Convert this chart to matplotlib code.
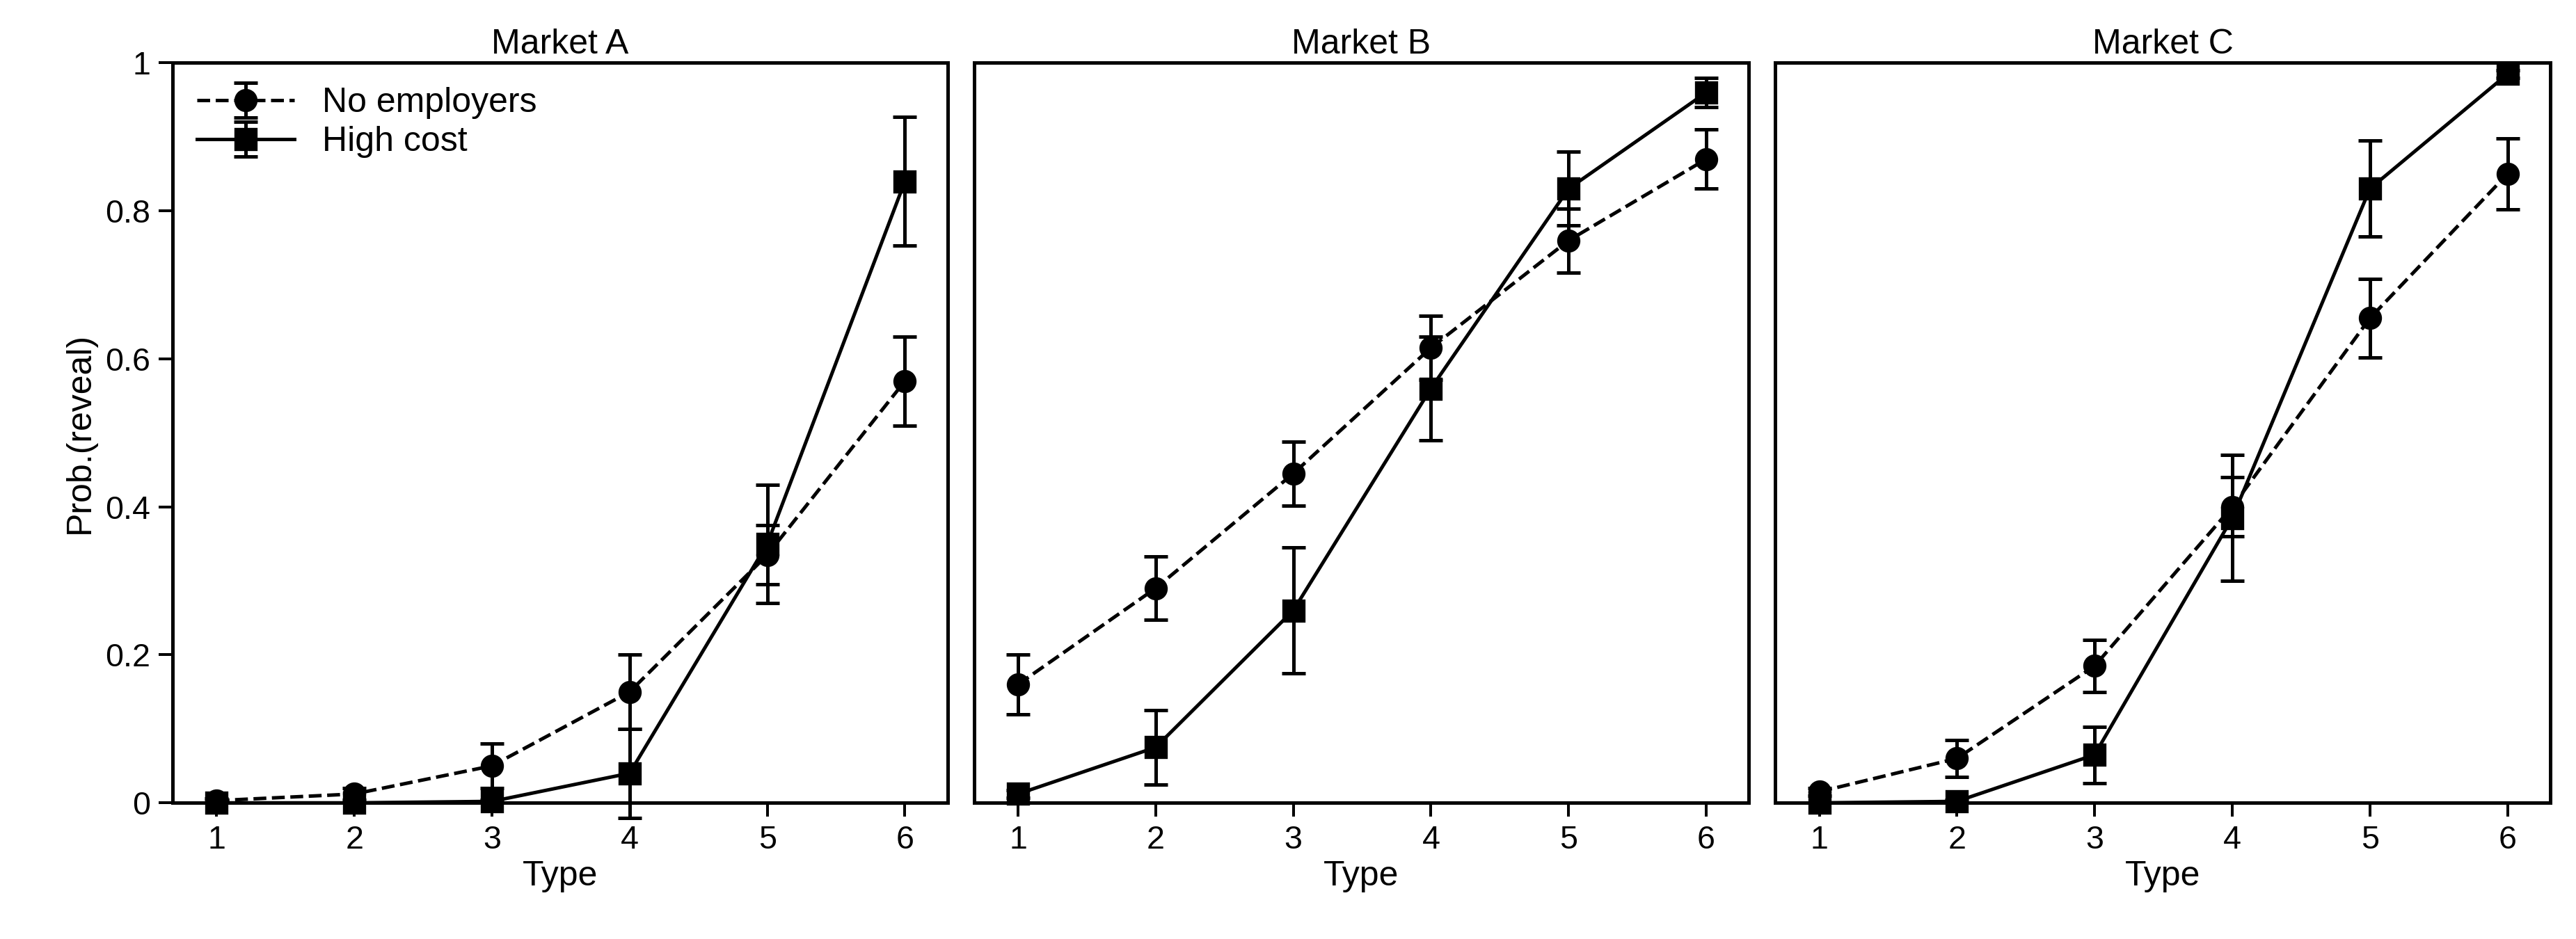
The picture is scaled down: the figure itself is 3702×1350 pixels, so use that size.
import numpy as np
import matplotlib
matplotlib.use("Agg")
import matplotlib.pyplot as plt

plt.rcParams['font.family'] = ['Liberation Sans', 'DejaVu Sans']

types = [1, 2, 3, 4, 5, 6]
markets = ['Market A', 'Market B', 'Market C']

# No employers: mean, error
noemp = [
    [0.003, 0.012, 0.05, 0.15, 0.335, 0.57],
    [0.16, 0.29, 0.445, 0.615, 0.76, 0.87],
    [0.015, 0.06, 0.185, 0.40, 0.655, 0.85],
]
noemp_err = [
    [0.003, 0.008, 0.03, 0.05, 0.04, 0.06],
    [0.04, 0.043, 0.043, 0.043, 0.043, 0.04],
    [0.005, 0.025, 0.035, 0.04, 0.053, 0.048],
]
# High cost
high = [
    [0.0, 0.0, 0.002, 0.04, 0.35, 0.84],
    [0.012, 0.075, 0.26, 0.56, 0.83, 0.96],
    [0.0, 0.002, 0.065, 0.385, 0.83, 0.985],
]
high_err = [
    [0.0, 0.0, 0.002, 0.06, 0.08, 0.087],
    [0.005, 0.05, 0.085, 0.07, 0.05, 0.02],
    [0.0, 0.002, 0.038, 0.085, 0.065, 0.005],
]

fig, axes = plt.subplots(1, 3, figsize=(15.425, 5.625), dpi=240, sharey=True)
fig.subplots_adjust(left=0.067, right=0.99, top=0.933, bottom=0.145, wspace=0.034)

for i, ax in enumerate(axes):
    ax.errorbar(types, noemp[i], yerr=noemp_err[i], color='black', ls='--', marker='o',
                ms=9, lw=1.5, capsize=5, elinewidth=1.5, capthick=1.5,
                label='No employers', clip_on=False)
    ax.errorbar(types, high[i], yerr=high_err[i], color='black', ls='-', marker='s',
                ms=9, lw=1.5, capsize=5, elinewidth=1.5, capthick=1.5,
                label='High cost', clip_on=False)
    ax.set_xlim(0.68, 6.31)
    ax.set_ylim(0, 1)
    ax.set_xticks(types)
    ax.set_title(markets[i], fontsize=15, pad=4)
    ax.set_xlabel('Type', fontsize=15, labelpad=2)
    ax.tick_params(labelsize=14, direction='out', length=6, width=1.2)
    for s in ax.spines.values():
        s.set_linewidth(1.5)
    if i > 0:
        ax.tick_params(axis='y', left=False, labelleft=False)

axes[0].set_yticks([0, 0.2, 0.4, 0.6, 0.8, 1])
axes[0].set_yticklabels(['0', '0.2', '0.4', '0.6', '0.8', '1'])
axes[0].set_ylabel('Prob.(reveal)', fontsize=15)
axes[0].legend(loc='upper left', frameon=False, fontsize=15, handlelength=2.8,
               borderaxespad=0.3, labelspacing=0.2)

fig.savefig('out.png')
